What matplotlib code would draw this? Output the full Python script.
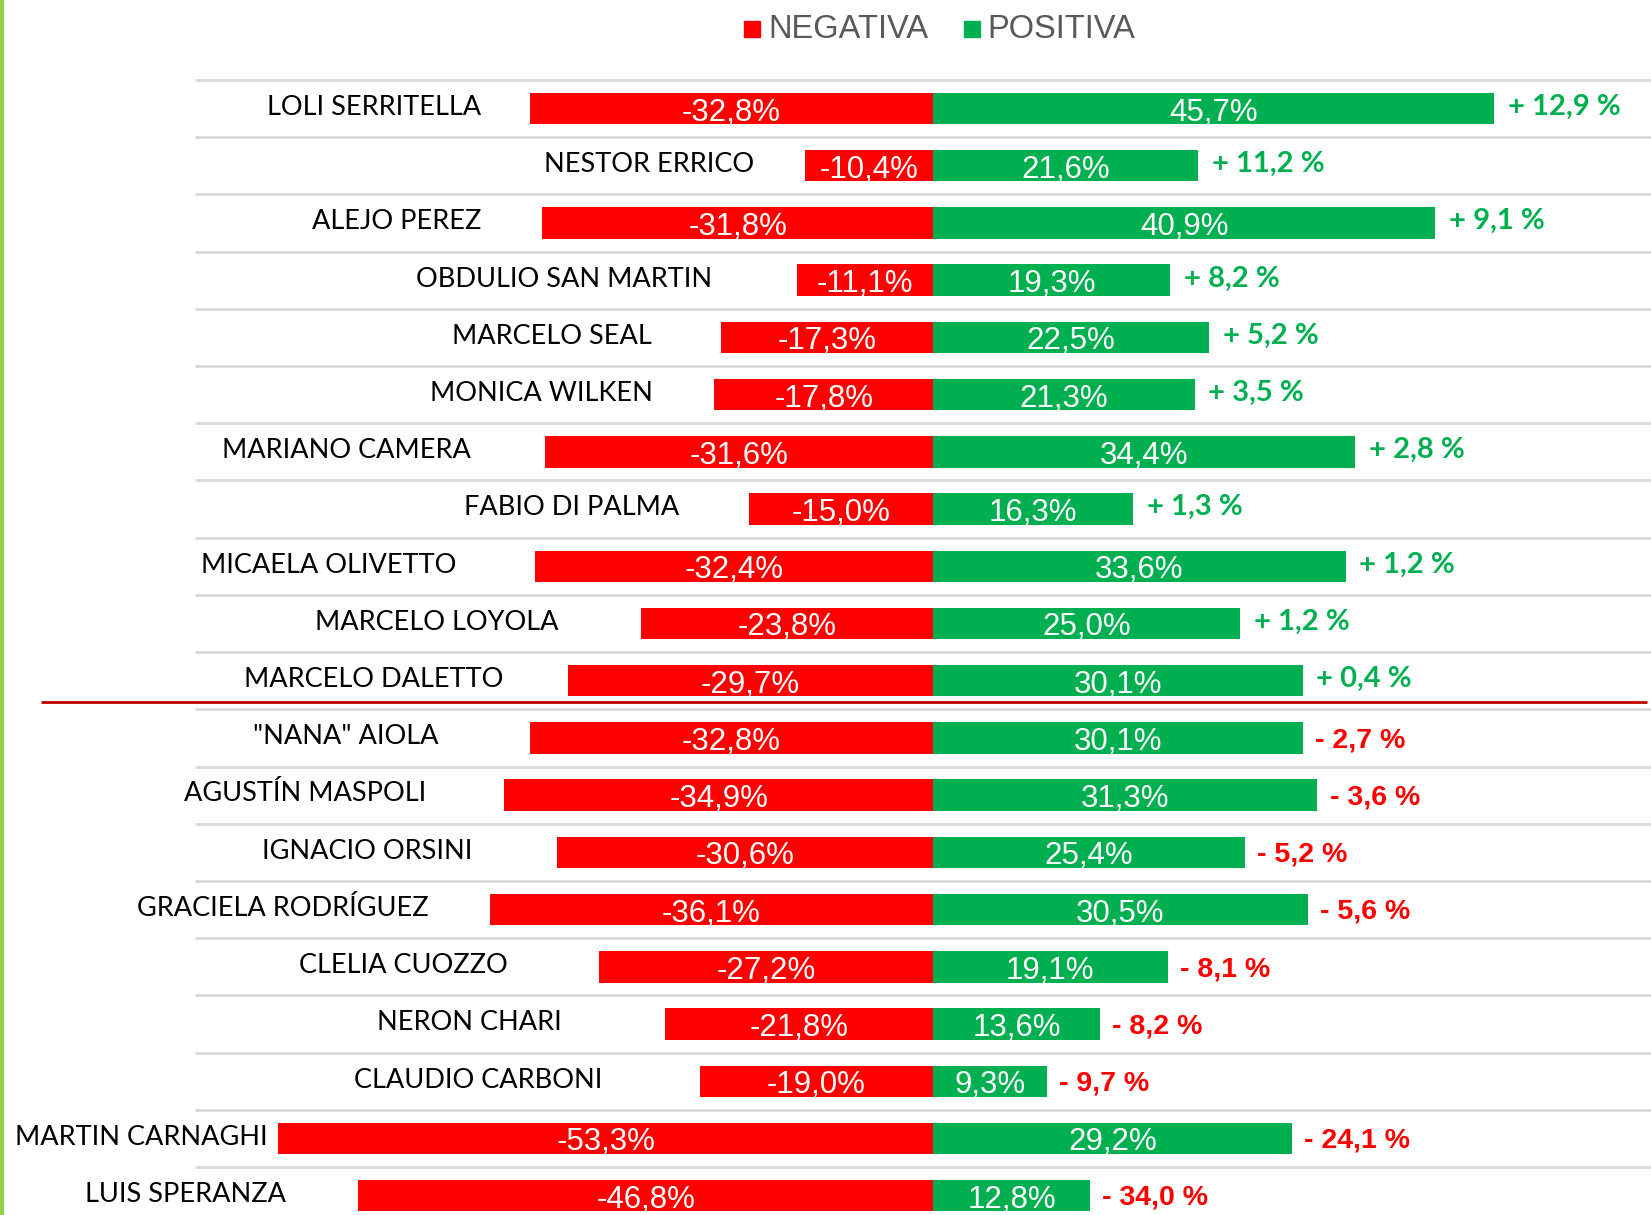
# Imagen positiva / negativa por dirigente
# Diverging bar chart: negative image (red) vs positive image (green), with the net balance at the end.

import matplotlib.pyplot as plt
from matplotlib.lines import Line2D
from matplotlib.patches import Rectangle

# Constants
RED = '#FF0000'
GREEN = '#00B050'
PX_PER_PCT = 12.28      # horizontal scale of the bars
ZERO_PX = 933           # position of the 0 % axis in the picture
ROW_PX = 57.22          # vertical spacing between rows

NAMES = ['LOLI SERRITELLA', 'NESTOR ERRICO', 'ALEJO PEREZ', 'OBDULIO SAN MARTIN',
         'MARCELO SEAL', 'MONICA WILKEN', 'MARIANO CAMERA', 'FABIO DI PALMA',
         'MICAELA OLIVETTO', 'MARCELO LOYOLA', 'MARCELO DALETTO', '"NANA" AIOLA',
         'AGUSTÍN MASPOLI', 'IGNACIO ORSINI', 'GRACIELA RODRÍGUEZ', 'CLELIA CUOZZO',
         'NERON CHARI', 'CLAUDIO CARBONI', 'MARTIN CARNAGHI', 'LUIS SPERANZA']
NEGATIVE = [-32.8, -10.4, -31.8, -11.1, -17.3, -17.8, -31.6, -15.0, -32.4, -23.8,
            -29.7, -32.8, -34.9, -30.6, -36.1, -27.2, -21.8, -19.0, -53.3, -46.8]
POSITIVE = [45.7, 21.6, 40.9, 19.3, 22.5, 21.3, 34.4, 16.3, 33.6, 25.0,
            30.1, 30.1, 31.3, 25.4, 30.5, 19.1, 13.6, 9.3, 29.2, 12.8]
NET = [12.9, 11.2, 9.1, 8.2, 5.2, 3.5, 2.8, 1.3, 1.2, 1.2,
       0.4, -2.7, -3.6, -5.2, -5.6, -8.1, -8.2, -9.7, -24.1, -34.0]
NAME_GAP = [4.0, 4.2, 5.0, 6.9, 5.6, 5.0, 6.0, 5.7, 6.4, 6.7,
            5.3, 7.5, 6.4, 6.9, 5.0, 7.4, 8.4, 7.9, 0.9, 5.9]  # space between name and red bar

SANS = 'Liberation Sans'


def fmt_pct(v):
    """Spanish style percentage, e.g. -32,8%."""
    return f"{v:.1f}%".replace('.', ',')


def fmt_net(v):
    """Net balance label, e.g. + 12,9 %."""
    sign = '+' if v >= 0 else '-'
    return f"{sign} {abs(v):.1f} %".replace('.', ',')


def setup_axes(fig):
    """Axes covering the whole figure, in % units horizontally and rows vertically."""
    w, h = fig.get_size_inches() * fig.dpi
    ax = fig.add_axes([0, 0, 1, 1])
    ax.set_xlim(-ZERO_PX / PX_PER_PCT, (w - ZERO_PX) / PX_PER_PCT)
    top = -108.5 / ROW_PX
    ax.set_ylim(top + h / ROW_PX, top)
    ax.axis('off')
    return ax


def plot_bars(ax):
    """Draw grid, bars and all labels."""
    rows = range(len(NAMES))
    xmax = ax.get_xlim()[1]
    for i in range(len(NAMES)):
        ax.hlines(i - 0.5, -60.1, xmax, color='#D9D9D9', lw=2, zorder=1)
    ax.barh(rows, NEGATIVE, height=0.55, color=RED, zorder=2)
    ax.barh(rows, POSITIVE, height=0.55, color=GREEN, zorder=2)

    for i, (name, neg, pos, net, gap) in enumerate(zip(NAMES, NEGATIVE, POSITIVE, NET, NAME_GAP)):
        ax.text(neg - gap, i - 0.02, name, ha='right', va='center',
                fontsize=19.5, family='Lato', color='black')
        ax.text(neg / 2, i + 0.07, fmt_pct(neg), ha='center', va='center',
                fontsize=22.5, family=SANS, color='white', zorder=3)
        ax.text(pos / 2, i + 0.07, fmt_pct(pos), ha='center', va='center',
                fontsize=22.5, family=SANS, color='white', zorder=3)
        if net >= 0:
            ax.text(pos + 1.1, i - 0.03, fmt_net(net), ha='left', va='center',
                    fontsize=21, family='Lato', weight='bold', color=GREEN)
        else:
            ax.text(pos + 1.0, i + 0.04, fmt_net(net), ha='left', va='center',
                    fontsize=20.5, family=SANS, weight='bold', color=RED)

    # separation between positive and negative balance
    ax.hlines(10.37, -72.6, xmax - 0.3, color='#C00000', lw=2, zorder=2)


def plot_legend(fig):
    """Legend at the top centre."""
    w, h = fig.get_size_inches() * fig.dpi
    for x_box, x_txt, color, label in [(744, 768, RED, 'NEGATIVA'), (964, 987, GREEN, 'POSITIVA')]:
        fig.patches.append(Rectangle((x_box / w, 1 - 37 / h), 16 / w, 16 / h,
                                     transform=fig.transFigure, color=color))
        fig.text(x_txt / w, 1 - 29 / h, label, ha='left', va='center',
                 fontsize=23.5, family=SANS, color='#595959')


def main():
    fig = plt.figure(figsize=(16.51, 12.15), dpi=100)
    ax = setup_axes(fig)
    plot_bars(ax)
    plot_legend(fig)
    fig.add_artist(Line2D([0.001, 0.001], [0, 1], color='#92D050', lw=3))
    fig.savefig('out.png', dpi=100)


if __name__ == '__main__':
    main()
